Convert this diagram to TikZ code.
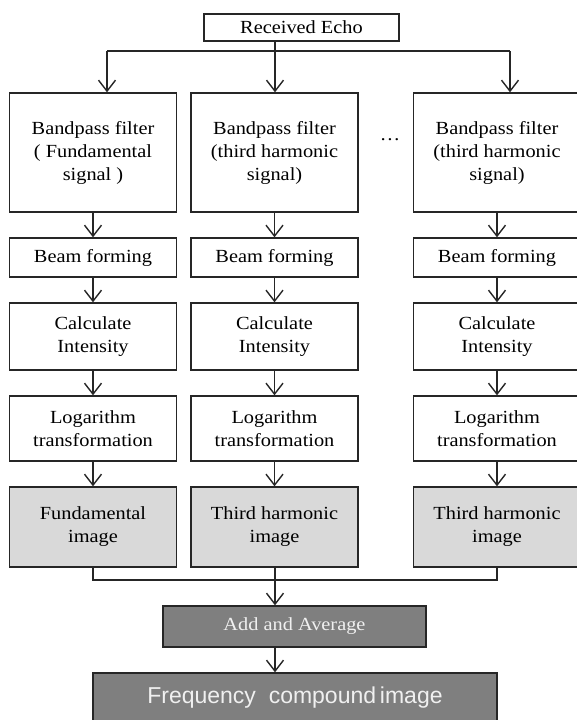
\documentclass[tikz,border=0pt]{standalone}
\usepackage{fontspec}
\setmainfont{Liberation Serif}[FakeStretch=1.1]
\newfontfamily\freqfont{Liberation Sans}
\usetikzlibrary{arrows.meta}
\definecolor{lgray}{HTML}{D9D9D9}
\definecolor{dgray}{HTML}{7F7F7F}
\definecolor{edgec}{HTML}{262626}
\begin{document}
\begin{tikzpicture}[x=1pt,y=-1pt,
 box/.style={draw=edgec,line width=1.4pt,inner sep=0pt,align=center,
   font=\fontsize{18.5}{23}\selectfont,text=black,minimum width=167pt},
 lbox/.style={box,fill=lgray},
 dbox/.style={box,fill=dgray,text=white!94!black},
 link/.style={draw=edgec,line width=1.4pt},
 arr/.style={link,-{Straight Barb[length=11pt,width=17pt,line width=1.4pt]}}]
\useasboundingbox (0,0) rectangle (577,720);
\fill[white] (0,0) rectangle (577,720);

\node[box,minimum width=195pt,minimum height=27pt] (echo) at (301.5,27.5) {Received Echo};

% column 1
\node[box,minimum height=119pt] (bp1) at (93,152.5) {Bandpass filter\\( Fundamental\\signal )};
\node[box,minimum height=39pt] (bm1) at (93,257.5) {Beam forming};
\node[box,minimum height=67pt] (ci1) at (93,336.5) {Calculate\\Intensity};
\node[box,minimum height=65pt] (lg1) at (93,428.5) {Logarithm\\transformation};
\node[lbox,minimum height=80pt] (im1) at (93,527) {Fundamental\\image};
% column 2
\node[box,minimum height=119pt] (bp2) at (274.5,152.5) {Bandpass filter\\(third harmonic\\signal)};
\node[box,minimum height=39pt] (bm2) at (274.5,257.5) {Beam forming};
\node[box,minimum height=67pt] (ci2) at (274.5,336.5) {Calculate\\Intensity};
\node[box,minimum height=65pt] (lg2) at (274.5,428.5) {Logarithm\\transformation};
\node[lbox,minimum height=80pt] (im2) at (274.5,527) {Third harmonic\\image};
% column 3
\node[box,minimum height=119pt] (bp3) at (497,152.5) {Bandpass filter\\(third harmonic\\signal)};
\node[box,minimum height=39pt] (bm3) at (497,257.5) {Beam forming};
\node[box,minimum height=67pt] (ci3) at (497,336.5) {Calculate\\Intensity};
\node[box,minimum height=65pt] (lg3) at (497,428.5) {Logarithm\\transformation};
\node[lbox,minimum height=80pt] (im3) at (497,527) {Third harmonic\\image};

\node[font=\fontsize{18.5}{23}\selectfont] (dots) at (390,140) {\dots};

\node[dbox,minimum width=263pt,minimum height=41pt] (add) at (294.5,626.5) {Add and Average};
\node[dbox,minimum width=404pt,minimum height=50pt,font=\freqfont\fontsize{23}{27}\selectfont] (freq) at (295,698)
  {Frequency\ \ compound\,image};

% top distribution
\coordinate (split) at (275,51);
\coordinate (a1) at (107,51);
\coordinate (a3) at (510,51);
\draw[link] (echo.south -| split) -- (split);
\draw[link] (a1) -- (a3);
\draw[arr] (a1) -- (a1 |- bp1.north);
\draw[arr] (split) -- (split |- bp2.north);
\draw[arr] (a3) -- (a3 |- bp3.north);

% column arrows
\foreach \i in {1,2,3}{
  \draw[arr] (bp\i) -- (bm\i);
  \draw[arr] (bm\i) -- (ci\i);
  \draw[arr] (ci\i) -- (lg\i);
  \draw[arr] (lg\i) -- (im\i);
}

% join
\coordinate (j1) at (93,580);
\coordinate (j2) at (275,580);
\coordinate (j3) at (497,580);
\draw[link] (im1.south) -- (j1) -- (j3) -- (im3.south);
\draw[link] (im2.south -| j2) -- (j2);
\draw[arr] (j2) -- (j2 |- add.north);
\draw[arr] (add.south -| j2) -- (j2 |- freq.north);
\end{tikzpicture}
\end{document}
